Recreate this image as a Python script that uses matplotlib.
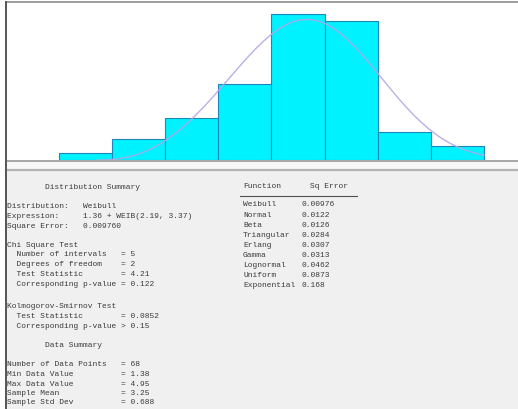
import numpy as np
import matplotlib
matplotlib.use("Agg")
import matplotlib.pyplot as plt
from matplotlib.lines import Line2D
from matplotlib.patches import Rectangle

# ---- data ----
bin_edges = [1.0, 1.5, 2.0, 2.5, 3.0, 3.5, 4.0, 4.5, 5.0]
bin_counts = [1, 3, 6, 11, 21, 20, 4, 2]
n_points = 68

# fitted distribution: loc + WEIB(scale, shape)
fit_loc = 1.36
fit_scale = 2.19
fit_shape = 3.37

fit_functions = ["Weibull", "Normal", "Beta", "Triangular", "Erlang",
                 "Gamma", "Lognormal", "Uniform", "Exponential"]
fit_sq_errors = ["0.00976", "0.0122", "0.0126", "0.0284", "0.0307",
                 "0.0313", "0.0462", "0.0873", "0.168"]

summary_lines = [
    ("        Distribution Summary", 187.5),
    ("Distribution:   Weibull", 207.0),
    ("Expression:     %.2f + WEIB(%.2f, %.2f)" % (fit_loc, fit_scale, fit_shape), 216.5),
    ("Square Error:   0.009760", 226.0),
    ("Chi Square Test", 245.5),
    ("  Number of intervals   = 5", 255.0),
    ("  Degrees of freedom    = 2", 264.5),
    ("  Test Statistic        = 4.21", 274.0),
    ("  Corresponding p-value = 0.122", 284.0),
    ("Kolmogorov-Smirnov Test", 306.0),
    ("  Test Statistic        = 0.0852", 316.0),
    ("  Corresponding p-value > 0.15", 326.0),
    ("        Data Summary", 345.5),
    ("Number of Data Points   = %d" % n_points, 365.0),
    ("Min Data Value          = 1.38", 374.5),
    ("Max Data Value          = 4.95", 384.0),
    ("Sample Mean             = 3.25", 393.5),
    ("Sample Std Dev          = 0.688", 403.0),
]

W, H = 518, 409
fig = plt.figure(figsize=(W / 100, H / 100), dpi=100)
fig.patch.set_facecolor("white")


def fx(x):
    return x / W


def fy(y):
    return 1 - y / H


# ---- histogram panel ----
left_px, right_px, top_px, base_px = 6, 518, 3, 160
ax = fig.add_axes([fx(left_px), fy(base_px), fx(right_px - left_px),
                   (base_px - top_px) / H])
px_per_unit = (484 - 59) / (bin_edges[-1] - bin_edges[0])
px_per_count = 146 / 21
ax.set_xlim(bin_edges[0] - (59 - left_px) / px_per_unit,
            bin_edges[-1] + (right_px - 484) / px_per_unit)
ax.set_ylim(0, (base_px - top_px) / px_per_count)
ax.axis("off")

widths = np.diff(bin_edges)
ax.bar(bin_edges[:-1], bin_counts, width=widths, align="edge",
       color="#00f2ff", edgecolor="#1f86b8", linewidth=0.8, zorder=2)

# fitted Weibull density scaled to counts per bin
xs = np.linspace(fit_loc, bin_edges[-1], 400)
z = (xs - fit_loc) / fit_scale
pdf = (fit_shape / fit_scale) * z ** (fit_shape - 1) * np.exp(-z ** fit_shape)
ax.plot(xs, pdf * n_points * widths[0], color="#b3a6e6", linewidth=1.0,
        zorder=3, alpha=0.9)

# ---- frame lines and lower panel ----
fig.patches.append(Rectangle((fx(left_px), 0), fx(W - left_px), fy(170.5),
                             transform=fig.transFigure, facecolor="#f0f0f0",
                             edgecolor="none", zorder=0))
fig.patches.append(Rectangle((fx(left_px), fy(169.5)), fx(W - left_px),
                             (169.5 - 161) / H, transform=fig.transFigure,
                             facecolor="#f8f8f8", edgecolor="none", zorder=0))
fig.lines.append(Line2D([fx(left_px), 1], [fy(160.6), fy(160.6)],
                        transform=fig.transFigure, color="#a0a0a0", lw=1.3))
fig.lines.append(Line2D([fx(left_px), 1], [fy(170.2), fy(170.2)],
                        transform=fig.transFigure, color="#b4b4b4", lw=1.6))
fig.lines.append(Line2D([fx(left_px), 1], [fy(1.5), fy(1.5)],
                        transform=fig.transFigure, color="#8c8c8c", lw=1.2))
fig.lines.append(Line2D([fx(5.5), fx(5.5)], [0, fy(1.5)],
                        transform=fig.transFigure, color="#555555", lw=1.4))

# ---- summary text ----
mono = dict(family="Liberation Mono", fontsize=5.7, color="#3a3a3a",
            va="center", ha="left")
for text, y in summary_lines:
    fig.text(fx(7), fy(y), text, **mono)

fig.text(fx(243), fy(186), "Function", **mono)
fig.text(fx(310), fy(186), "Sq Error", **mono)
fig.lines.append(Line2D([fx(240), fx(357)], [fy(195.5), fy(195.5)],
                        transform=fig.transFigure, color="#505050", lw=0.8))
for i, (name, err) in enumerate(zip(fit_functions, fit_sq_errors)):
    y = 205.0 + 10.05 * i
    fig.text(fx(243), fy(y), name, **mono)
    fig.text(fx(302), fy(y), err, **mono)

fig.savefig("out.png", dpi=100)
